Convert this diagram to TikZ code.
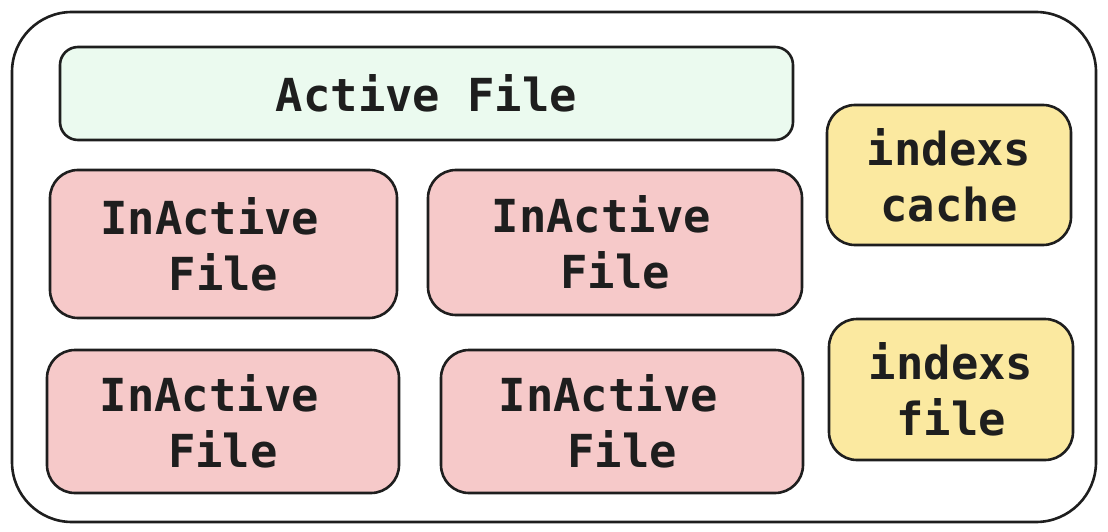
\documentclass[tikz,border=0pt]{standalone}
\usepackage{fontspec}
\setmonofont{DejaVu Sans Mono}
\definecolor{ink}{HTML}{1E1E1E}
\definecolor{greenfill}{HTML}{EBFAEF}
\definecolor{pinkfill}{HTML}{F6C9C9}
\definecolor{yellowfill}{HTML}{FBE9A0}
\tikzset{
  box/.style={draw=ink, line width=2.6pt, rounded corners=#1, inner sep=0pt, align=center,
    text=ink, font=\ttfamily\bfseries\fontsize{45.5}{56}\selectfont},
  box/.default=26pt,
  activebox/.style={box=18pt, fill=greenfill},
  inactivebox/.style={box=28pt, fill=pinkfill},
  indexbox/.style={box=28pt, fill=yellowfill},
}
\begin{document}
\begin{tikzpicture}[x=1pt,y=-1pt]
\useasboundingbox (0,0) rectangle (1108,532);
\node[box=60pt, minimum width=1084pt, minimum height=510pt] (outer) at (554,267) {};
\node[activebox, minimum width=733pt, minimum height=93pt] (active) at (426.5,93.5) {Active File};
\node[inactivebox, minimum width=347pt, minimum height=148pt] (ia1) at (223.5,244) {InActive\hphantom{I}\\File};
\node[inactivebox, minimum width=374pt, minimum height=145pt] (ia2) at (615,242.5) {InActive\hphantom{I}\\File};
\node[inactivebox, minimum width=352pt, minimum height=143pt] (ia3) at (223,421.5) {InActive\hphantom{I}\\File};
\node[inactivebox, minimum width=362pt, minimum height=143pt] (ia4) at (622,421.5) {InActive\hphantom{I}\\File};
\node[indexbox, minimum width=244pt, minimum height=140pt] (icache) at (949,175) {indexs\\cache};
\node[indexbox, minimum width=244pt, minimum height=141pt] (ifile) at (951,389.5) {indexs\\file};
\end{tikzpicture}
\end{document}
